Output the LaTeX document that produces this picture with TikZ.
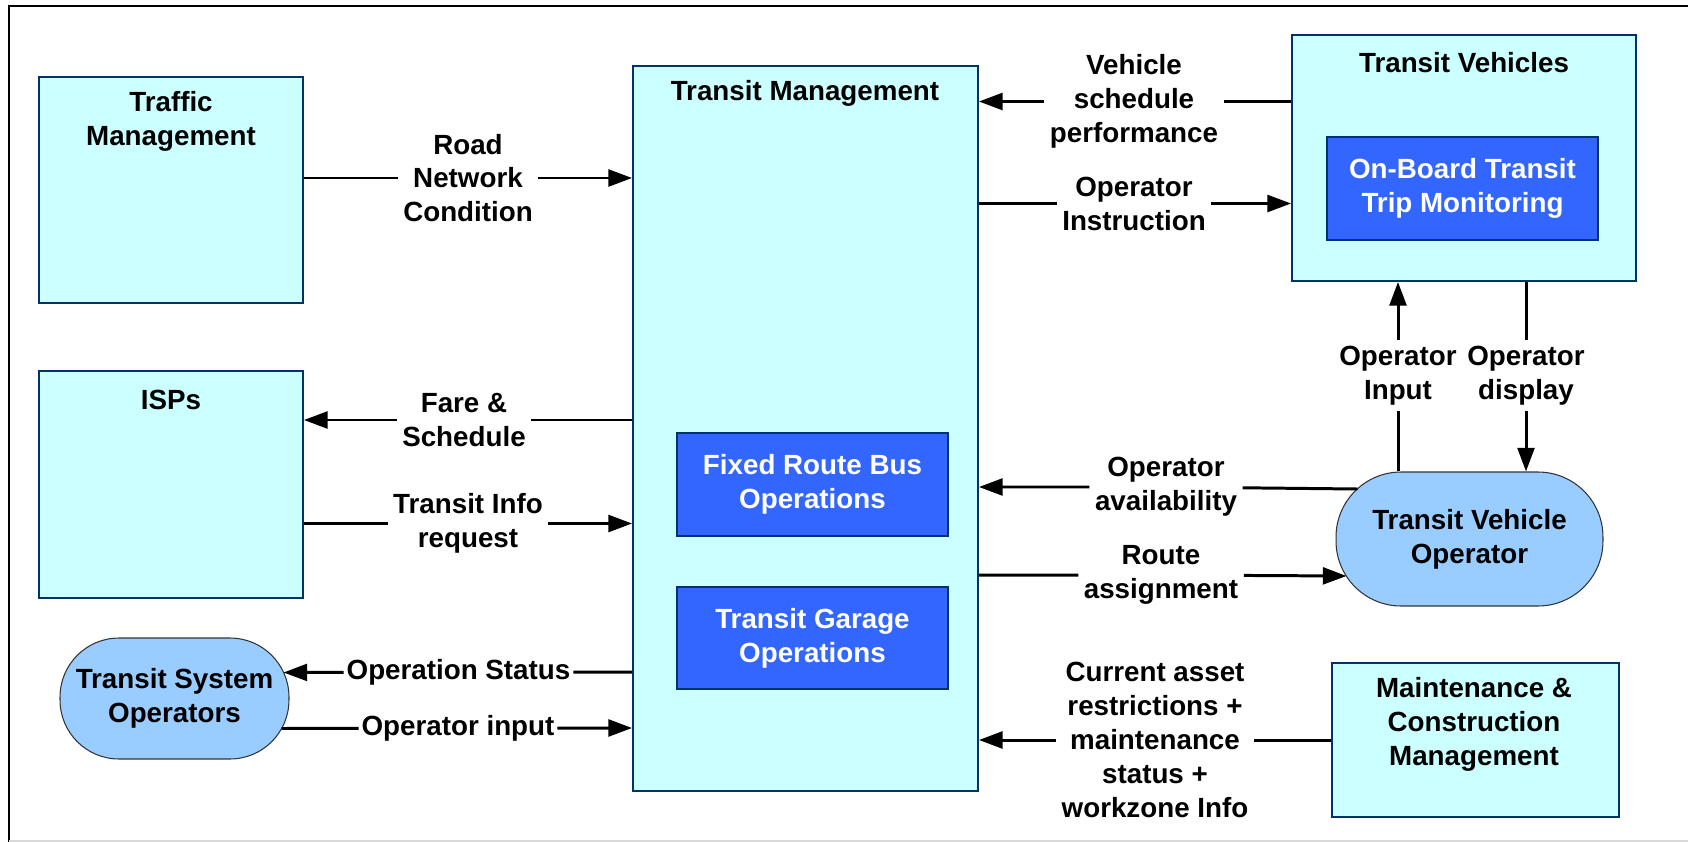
\documentclass[tikz,border=0pt]{standalone}
\usepackage{fontspec}
\setmainfont{Liberation Sans}
\usepackage{xcolor}
\definecolor{tmcyan}{RGB}{204,255,255}
\definecolor{tmnavy}{RGB}{0,51,102}
\definecolor{tmblue}{RGB}{51,102,255}
\definecolor{tmsky}{RGB}{153,204,255}
\usepackage{tikz}
\usetikzlibrary{arrows.meta, positioning, calc}

\newcommand{\diagfont}{\fontsize{15.8}{19.3}\selectfont\bfseries}

\begin{document}
\begin{tikzpicture}[x=0.02cm, y=-0.02cm,
    sysbox/.style={draw=tmnavy, fill=tmcyan, line width=1.1pt, inner sep=0pt},
    subbox/.style={draw=tmnavy, fill=tmblue, line width=1.1pt, text=white,
                   font=\diagfont, align=center, inner sep=0pt},
    actor/.style={draw=black!80, fill=tmsky, line width=0.6pt,
                  font=\diagfont, align=center, inner sep=0pt},
    boxtitle/.style={font=\diagfont, align=center, inner sep=0pt},
    flowlbl/.style={font=\diagfont, align=center, inner sep=3pt},
    flow/.style={-{Triangle[length=13.5pt, width=9.6pt]}, line width=1.7pt}]

\useasboundingbox (0,0) rectangle (1688,842);

% Frame
\draw[line width=1.2pt] (1688,6) -- (9,6) -- (9,842);
\draw[black!15, line width=0.8pt] (9,841) -- (1688,841);

% --- Traffic Management ---
\node[sysbox, minimum width=5.28cm, minimum height=4.52cm] (traffic) at (171,190) {};
\node[boxtitle] (traffictitle) at (171,121.5) {Traffic\\Management};

% --- ISPs ---
\node[sysbox, minimum width=5.28cm, minimum height=4.54cm] (isps) at (171,484.5) {};
\node[boxtitle] (ispstitle) at (171,400) {ISPs};

% --- Transit System Operators ---
\node[actor, minimum width=4.58cm, minimum height=2.42cm, rounded corners=1.18cm]
      (tso) at (174.5,698.5) {Transit System\\Operators};

% --- Transit Management ---
\node[sysbox, minimum width=6.9cm, minimum height=14.5cm] (tm) at (805.5,428.5) {};
\node[boxtitle] (tmtitle) at (805,93) {Transit Management};
\node[subbox, minimum width=5.42cm, minimum height=2.06cm]
      (fixed) at (812.5,484.5) {Fixed Route Bus\\Operations};
\node[subbox, minimum width=5.42cm, minimum height=2.04cm]
      (garage) at (812.5,638) {Transit Garage\\Operations};

% --- Transit Vehicles ---
\node[sysbox, minimum width=6.88cm, minimum height=4.92cm] (tv) at (1464,158) {};
\node[boxtitle] (tvtitle) at (1464,63) {Transit Vehicles};
\node[subbox, minimum width=5.42cm, minimum height=2.06cm]
      (onboard) at (1462.5,188.5) {On-Board Transit\\Trip Monitoring};

% --- Transit Vehicle Operator ---
\node[actor, minimum width=5.34cm, minimum height=2.68cm, rounded corners=1.3cm]
      (tvo) at (1469.5,539) {Transit Vehicle\\Operator};

% --- Maintenance & Construction Management ---
\node[sysbox, minimum width=5.74cm, minimum height=3.08cm] (maint) at (1475.5,740) {};
\node[boxtitle] (mainttitle) at (1474,724.5) {Maintenance \&\\Construction\\Management};

% Flow labels
\node[flowlbl] (road) at (468,178) {Road\\Network\\Condition};
\node[flowlbl] (fare) at (464,420) {Fare \&\\Schedule};
\node[flowlbl] (info) at (468,523.5) {Transit Info\\request};
\node[flowlbl, inner sep=1.5pt] (opstat) at (458.5,672) {Operation Status};
\node[flowlbl, inner sep=1.5pt] (opin) at (458,728) {Operator input};
\node[flowlbl] (vsp) at (1134,101.5) {Vehicle\\schedule\\performance};
\node[flowlbl] (opinst) at (1134,203.5) {Operator\\Instruction};
\node[flowlbl] (opinput) at (1398,375.5) {Operator\\Input};
\node[flowlbl] (opdisp) at (1526,375.5) {Operator\\display};
\node[flowlbl] (avail) at (1166,487) {Operator\\availability};
\node[flowlbl] (route) at (1161,575) {Route\\assignment};
\node[flowlbl] (asset) at (1155,740) {Current asset\\restrictions +\\maintenance\\status +\\workzone Info};

% Flows, left side
\draw[flow] (traffic.east |- road) -- (road) -- (tm.west |- road);
\draw[flow] (tm.west |- fare) -- (fare) -- (isps.east |- fare);
\draw[flow] (isps.east |- info) -- (info) -- (tm.west |- info);
\draw[flow] (tm.west |- opstat) -- (opstat) -- ($(tso.east)+(-6,-26)$);
\draw[flow] ($(tso.east)+(-8,30)$) -- (opin) -- (tm.west |- opin);

% Flows, right side
\draw[flow] (tv.west |- vsp) -- (vsp) -- (tm.east |- vsp);
\draw[flow] (tm.east |- opinst) -- (opinst) -- (tv.west |- opinst);
\draw[flow] (opinput |- tvo.north) -- (opinput) -- (opinput |- tv.south);
\draw[flow] (opdisp |- tv.south) -- (opdisp) -- (opdisp |- tvo.north);
\draw[flow] ($(tvo.west)+(22,-50)$) -- (avail) -- (tm.east |- avail);
\draw[flow] (tm.east |- route) -- (route) -- ($(tvo.west)+(11,37)$);
\draw[flow] (maint.west |- asset) -- (asset) -- (tm.east |- asset);

\end{tikzpicture}
\end{document}
